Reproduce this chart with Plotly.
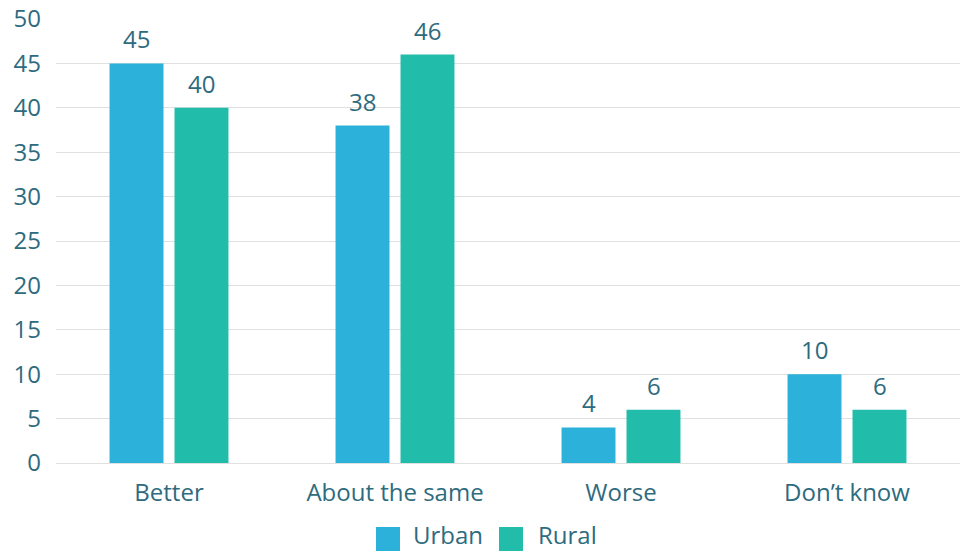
import plotly.graph_objects as go

categories = ["Better", "About the same", "Worse", "Don’t know"]
urban = [45, 38, 4, 10]
rural = [40, 46, 6, 6]
series_names = ["Urban", "Rural"]
y_ticks = [0, 5, 10, 15, 20, 25, 30, 35, 40, 45, 50]

URBAN_C = "#2BB1DA"
RURAL_C = "#21BCAA"
TXT = "#2E6B7E"
FONT = "Open Sans"
FS_NUM = 24
FS_CAT = 24

fig = go.Figure()
series = [(series_names[0], urban, URBAN_C, -32.5), (series_names[1], rural, RURAL_C, 32.5)]
annotations = []
for name, vals, col, dx in series:
    fig.add_trace(go.Bar(
        x=categories, y=vals, name=name, marker_color=col, marker_line_width=0,
        showlegend=False,
    ))
    for c, v in zip(categories, vals):
        annotations.append(dict(x=c, y=v, xref="x", yref="y", xshift=dx, yshift=6,
                                yanchor="bottom", text=str(v), showarrow=False,
                                font=dict(family=FONT, size=FS_NUM, color=TXT)))

L, R, T, B = 56, 7, 19, 89
W, H = 967, 552
pw = W - L - R
ph = H - T - B

def px(x):
    return (x - L) / pw

def py(y):
    return (H - B - y) / ph

shapes = []
leg = [(series_names[0], URBAN_C, 376, 412), (series_names[1], RURAL_C, 499, 537)]
for name, col, sx, tx in leg:
    shapes.append(dict(type="rect", xref="paper", yref="paper",
                       x0=px(sx), x1=px(sx + 24), y0=py(551), y1=py(527),
                       fillcolor=col, line_width=0))
    annotations.append(dict(xref="paper", yref="paper", x=px(tx), y=py(551.5),
                            xanchor="left", yanchor="bottom", borderpad=0,
                            text=name, showarrow=False,
                            font=dict(family=FONT, size=FS_CAT, color=TXT)))

fig.update_layout(
    width=W, height=H,
    margin=dict(l=L, r=R, t=T, b=B, autoexpand=False),
    paper_bgcolor="white", plot_bgcolor="white",
    barmode="group", bargap=0.425, bargroupgap=0.17,
    font=dict(family=FONT, size=FS_NUM, color=TXT),
    shapes=shapes, annotations=annotations,
    xaxis=dict(showgrid=False, showline=False, ticks="", ticklabelstandoff=13,
               automargin=False, tickfont=dict(family=FONT, size=FS_CAT, color=TXT)),
    yaxis=dict(range=[0, 50], tickvals=y_ticks, showgrid=True, gridcolor="#E0E0E0",
               gridwidth=1.3, zeroline=True, zerolinecolor="#E0E0E0", zerolinewidth=1.3,
               showline=False, ticks="", ticklabelstandoff=14, automargin=False,
               tickfont=dict(family=FONT, size=FS_NUM, color=TXT)),
    showlegend=False,
)

fig.write_html("out.html")
